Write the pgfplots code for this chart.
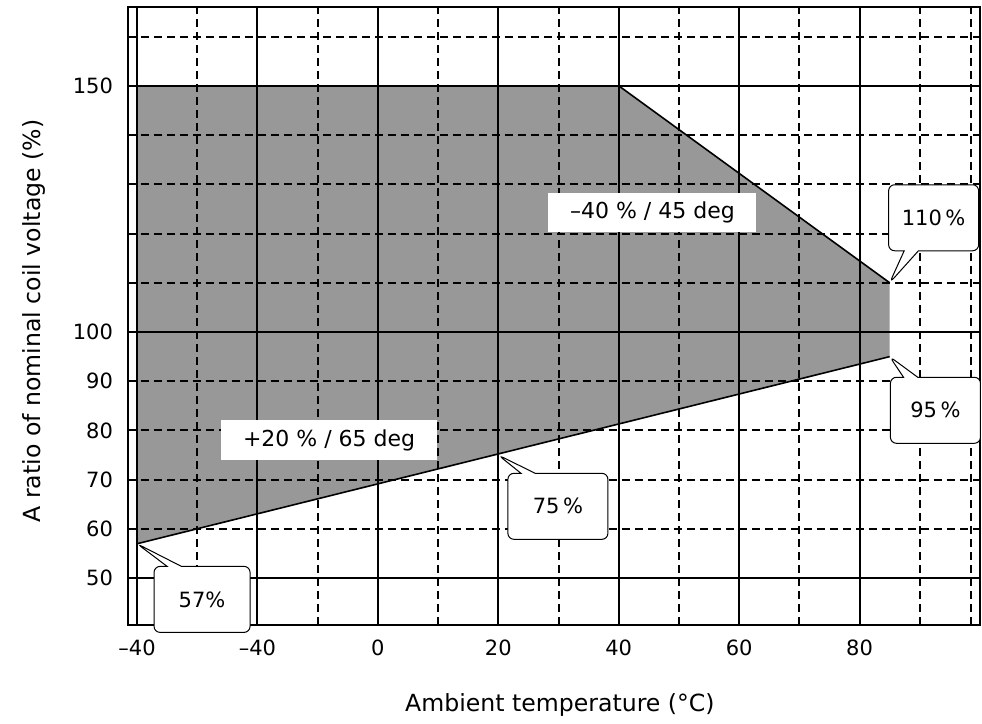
\documentclass[border=0pt]{standalone}
\usepackage{fontspec}
\setmainfont{DejaVu Sans}
\usepackage{pgfplots}
\pgfplotsset{compat=1.18}
\usetikzlibrary{shapes.callouts}
\definecolor{zone}{RGB}{152,152,152}

\begin{document}
\begin{tikzpicture}[font=\fontsize{10.5pt}{12pt}\selectfont]
\useasboundingbox (-64pt,-49.5pt) rectangle (427pt,312.5pt);
\begin{axis}[
  scale only axis, width=426pt, height=309pt,
  xmin=-41.5, xmax=100, ymin=40.5, ymax=166,
  axis on top,
  axis line style={line width=1.2pt},
  /pgf/number format/assume math mode=true,
  ticklabel style={font=\fontsize{10.5pt}{12pt}\selectfont},
  xticklabel style={yshift=-4pt},
  yticklabel style={xshift=-4pt},
  label style={font=\fontsize{11.8pt}{13pt}\selectfont},
  xtick={-40,-20,0,20,40,60,80},
  xticklabels={--40,--40,0,20,40,60,80},
  minor xtick={-30,-10,10,30,50,70,90,98.5},
  ytick={50,100,150},
  minor ytick={110,120,130,140,160},
  extra y ticks={60,70,80,90},
  extra y tick style={grid=major, major grid style={black, line width=1pt, dash pattern=on 4pt off 2.5pt}},
  grid=both,
  major grid style={black, line width=1pt},
  minor grid style={black, line width=1pt, dash pattern=on 4pt off 2.5pt},
  major tick length=0pt, minor tick length=0pt,
  xlabel={Ambient temperature (°C)},
  ylabel={A ratio of nominal coil voltage (\%)},
  xlabel style={at={(axis description cs:0.507,-0.1294)}, anchor=center},
  ylabel style={at={(axis description cs:-0.1105,0.492)}, anchor=center},
]
% operating zone
\addplot[draw=none, fill=zone] coordinates {(-40,57) (-40,150) (40,150) (85,110) (85,95) (-40,57)};
\addplot[black, line width=0.8pt] coordinates {(40,150) (85,110)};
\addplot[black, line width=0.8pt] coordinates {(-40,57) (85,95)};

\coordinate (p110) at (axis cs:85,110);
\coordinate (p95) at (axis cs:85,95);
\coordinate (p75) at (axis cs:20,75);
\coordinate (p57) at (axis cs:-40,57);
\coordinate (b110) at (axis cs:92.3,123.2);
\coordinate (b95) at (axis cs:92.6,84.1);
\coordinate (b75) at (axis cs:29.9,64.6);
\coordinate (b57) at (axis cs:-29.2,45.7);
\coordinate (t1) at (axis cs:45.6,124.2);
\coordinate (t2) at (axis cs:-8.1,78);
\end{axis}

\tikzset{co/.style={rectangle callout, draw, line width=0.5pt, fill=white, rounded corners=3pt, minimum height=33pt}}
\node[co, minimum width=45pt, callout absolute pointer={(p110)}] at (b110) {110\,\%};
\node[co, minimum width=45pt, callout absolute pointer={(p95)}] at (b95) {95\,\%};
\node[co, minimum width=50pt, callout absolute pointer={(p75)}] at (b75) {75\,\%};
\node[co, minimum width=48pt, callout absolute pointer={(p57)}] at (b57) {57\%};
\node[fill=white, minimum width=104pt, minimum height=19.5pt, font=\fontsize{11pt}{12pt}\selectfont] at (t1) {–40 \% / 45 deg};
\node[fill=white, minimum width=108pt, minimum height=20pt, font=\fontsize{11pt}{12pt}\selectfont] at (t2) {+20 \% / 65 deg};
\end{tikzpicture}
\end{document}
